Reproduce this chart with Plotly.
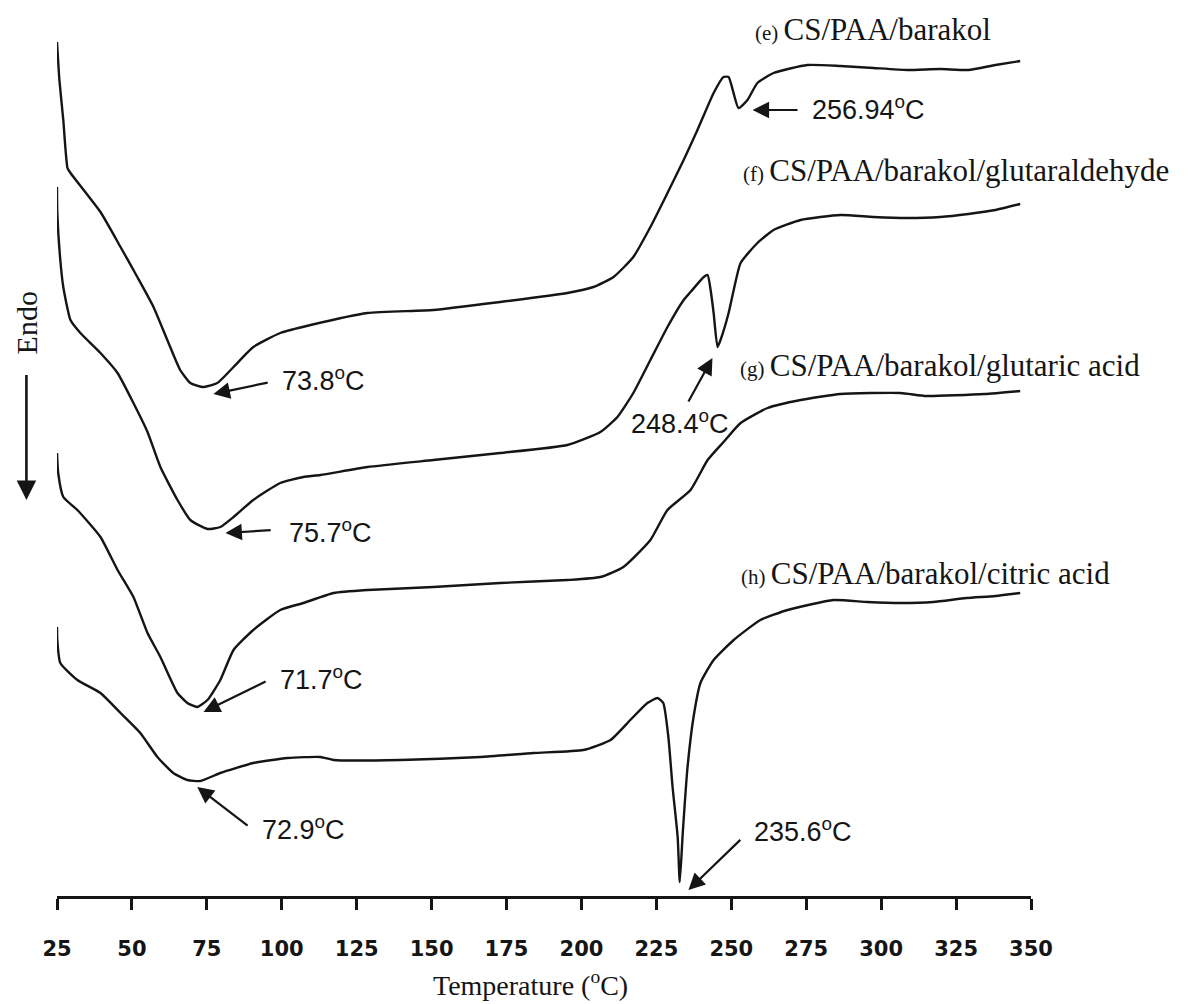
import plotly.graph_objects as go

# ---- data (temperature in °C, heat flow in arbitrary units, curves offset) ----
temp_e = [25.0, 25.8, 27.1, 28.5, 29.5, 39.5, 46.2, 51.8, 57.2, 61.8, 66.1, 69.5, 73.5, 78.5, 83.9, 90.5,
          99.5, 109.6, 128.6, 150.6, 172.9, 195.3, 204.0, 210.7, 217.3, 223.0, 228.7, 234.1, 238.7,
          244.1, 247.4, 249.1, 252.4, 255.4, 258.7, 264.1, 275.4, 286.4, 297.4, 308.7, 319.7, 329.1,
          338.1, 346.4]
flow_e = [854, 816, 776, 728, 723, 684, 649, 619, 589, 556, 526, 513, 509, 513, 529, 549,
          563, 571, 583, 586, 594, 603, 609, 619, 639, 669, 703, 736, 766,
          803, 819, 819, 788, 796, 813, 823, 831, 830, 828, 826, 827, 826,
          831, 835]

temp_f = [25.0, 25.1, 26.1, 27.1, 29.5, 32.8, 39.5, 45.2, 50.5, 55.2, 59.5, 65.2, 69.5, 75.2, 79.5,
          83.9, 90.5, 99.5, 107.2, 112.9, 128.6, 150.6, 172.9, 195.3, 206.3, 212.0, 217.3, 223.0,
          228.7, 234.1, 236.4, 240.8, 242.1, 243.1, 244.1, 245.4, 246.4, 249.1, 250.8, 253.1, 258.7,
          264.1, 273.1, 286.4, 297.4, 308.7, 319.7, 329.1, 338.1, 346.4]
flow_f = [709, 683, 636, 609, 576, 563, 543, 523, 493, 464, 429, 396, 376, 367, 369,
          379, 396, 413, 419, 421, 429, 436, 443, 451, 464, 479, 503, 536,
          569, 596, 604, 619, 621, 606, 583, 549, 556, 583, 606, 633, 653,
          666, 676, 681, 679, 678, 679, 682, 686, 692]

temp_g = [25.0, 25.4, 27.1, 31.8, 39.5, 45.2, 50.5, 55.2, 59.5, 65.2, 68.5, 71.8, 75.2, 79.5, 83.9,
          90.5, 99.5, 107.2, 117.3, 128.6, 150.6, 172.9, 195.3, 206.3, 214.0, 223.0, 228.7, 236.4,
          242.1, 247.4, 253.1, 262.1, 273.1, 286.4, 306.4, 315.1, 334.5, 346.4]
flow_g = [443, 423, 399, 386, 359, 326, 299, 263, 239, 203, 193, 189, 196, 216, 246,
          266, 286, 293, 303, 306, 309, 313, 316, 319, 329, 356, 386, 406,
          436, 454, 473, 488, 496, 502, 503, 500, 502, 505]

temp_h = [25.0, 25.1, 26.1, 31.8, 39.5, 46.2, 52.8, 58.5, 63.8, 68.5, 72.8, 79.5, 90.5, 101.9, 112.9,
          117.3, 139.6, 166.3, 184.0, 200.6, 209.7, 216.3, 222.0, 225.4, 227.3, 229.0, 230.4, 232.1,
          232.8, 233.8, 235.4, 237.4, 239.7, 244.1, 250.8, 259.7, 268.8, 284.1, 295.4, 306.4, 317.4,
          328.4, 338.1, 346.4]
flow_h = [269, 256, 233, 216, 203, 183, 163, 139, 123, 116, 115, 123, 133, 138, 139,
          136, 136, 139, 143, 146, 156, 176, 193, 198, 193, 159, 109, 59,
          14, 63, 129, 179, 213, 236, 256, 276, 286, 296, 294, 293, 294,
          298, 300, 303]

tick_vals = [25, 50, 75, 100, 125, 150, 175, 200, 225, 250, 275, 300, 325, 350]

series_tags = ["(e)", "(f)", "(g)", "(h)"]
series_names = ["CS/PAA/barakol", "CS/PAA/barakol/glutaraldehyde",
                "CS/PAA/barakol/glutaric acid", "CS/PAA/barakol/citric acid"]
label_T = [257.2, 253.1, 252.1, 252.4]
label_H = [867, 726, 531, 323]

# peak annotations: text, tip (T,H), tail (T,H), text position (T,H)
peak_text = ["73.8", "75.7", "71.7", "72.9", "256.94", "248.4", "235.6"]
peak_tip_T = [77.2, 81.2, 73.9, 71.8, 257.1, 243.7, 235.7]
peak_tip_H = [502, 363, 184, 109, 786, 538, 6]
peak_tail_T = [96.3, 97.3, 95.6, 89.6, 273.1, 234.7, 254.0]
peak_tail_H = [514, 366, 216, 68, 786, 489, 59]
peak_lab_T = [99.5, 101.9, 98.9, 92.9, 276.1, 215.7, 257.0]
peak_lab_H = [517, 365, 218, 68, 788, 474, 66]

INK = "#151515"
fig = go.Figure()
for T, H in [(temp_e, flow_e), (temp_f, flow_f), (temp_g, flow_g), (temp_h, flow_h)]:
    fig.add_trace(go.Scatter(x=T, y=H, mode="lines",
                             line=dict(color=INK, width=2.4, shape="spline", smoothing=0.5),
                             showlegend=False, hoverinfo="skip"))

ann = []
for tag, name, tx, ty in zip(series_tags, series_names, label_T, label_H):
    ann.append(dict(x=tx, y=ty, xref="x", yref="y", xanchor="left", yanchor="middle",
                    text=f"<span style='font-size:21px'>{tag} </span>{name}",
                    showarrow=False, font=dict(family="Liberation Serif", size=31, color=INK)))

for txt, xt, yt, xa, ya, lx, ly in zip(peak_text, peak_tip_T, peak_tip_H, peak_tail_T, peak_tail_H,
                                       peak_lab_T, peak_lab_H):
    ann.append(dict(x=xt, y=yt, xref="x", yref="y", ax=xa, ay=ya, axref="x", ayref="y",
                    text=" ", showarrow=True, arrowhead=2, arrowsize=1.5, arrowwidth=2.2,
                    arrowcolor=INK, standoff=0, startstandoff=0))
    ann.append(dict(x=lx, y=ly, xref="x", yref="y", xanchor="left", yanchor="middle",
                    text=f"{txt}<sup>o</sup>C", showarrow=False,
                    font=dict(family="Liberation Sans", size=27, color=INK)))

# Endo label and arrow (left of the plot)
ann.append(dict(x=-0.0314, y=0.6395, xref="paper", yref="paper", xanchor="center", yanchor="middle",
                text="Endo", textangle=-90,
                showarrow=False, font=dict(family="Liberation Serif", size=30, color=INK)))
ann.append(dict(x=-0.0314, y=0.442, xref="paper", yref="paper", ax=0, ay=-135, text=" ",
                showarrow=True, arrowhead=2, arrowsize=1.5, arrowwidth=2.6, arrowcolor=INK,
                standoff=0, startstandoff=0))

# x-axis title
ann.append(dict(x=183.0, y=-0.098, xref="x", yref="paper", xanchor="center", yanchor="middle",
                text="Temperature (<sup>o</sup>C)", showarrow=False,
                font=dict(family="Liberation Serif", size=28, color=INK)))

fig.update_layout(
    width=1202, height=1004,
    margin=dict(l=57, r=171, t=0, b=108),
    paper_bgcolor="white", plot_bgcolor="white",
    annotations=ann,
    xaxis=dict(range=[25, 350], tickvals=tick_vals, ticktext=[str(v) for v in tick_vals],
               ticks="outside", ticklen=11, tickwidth=3, tickcolor=INK,
               showline=True, linewidth=3, linecolor=INK, showgrid=False, zeroline=False,
               ticklabelstandoff=21,
               tickfont=dict(family="DejaVu Sans", size=21, color=INK, weight="bold")),
    yaxis=dict(range=[0, 896], visible=False, showgrid=False, zeroline=False),
)

fig.write_html("out.html")
